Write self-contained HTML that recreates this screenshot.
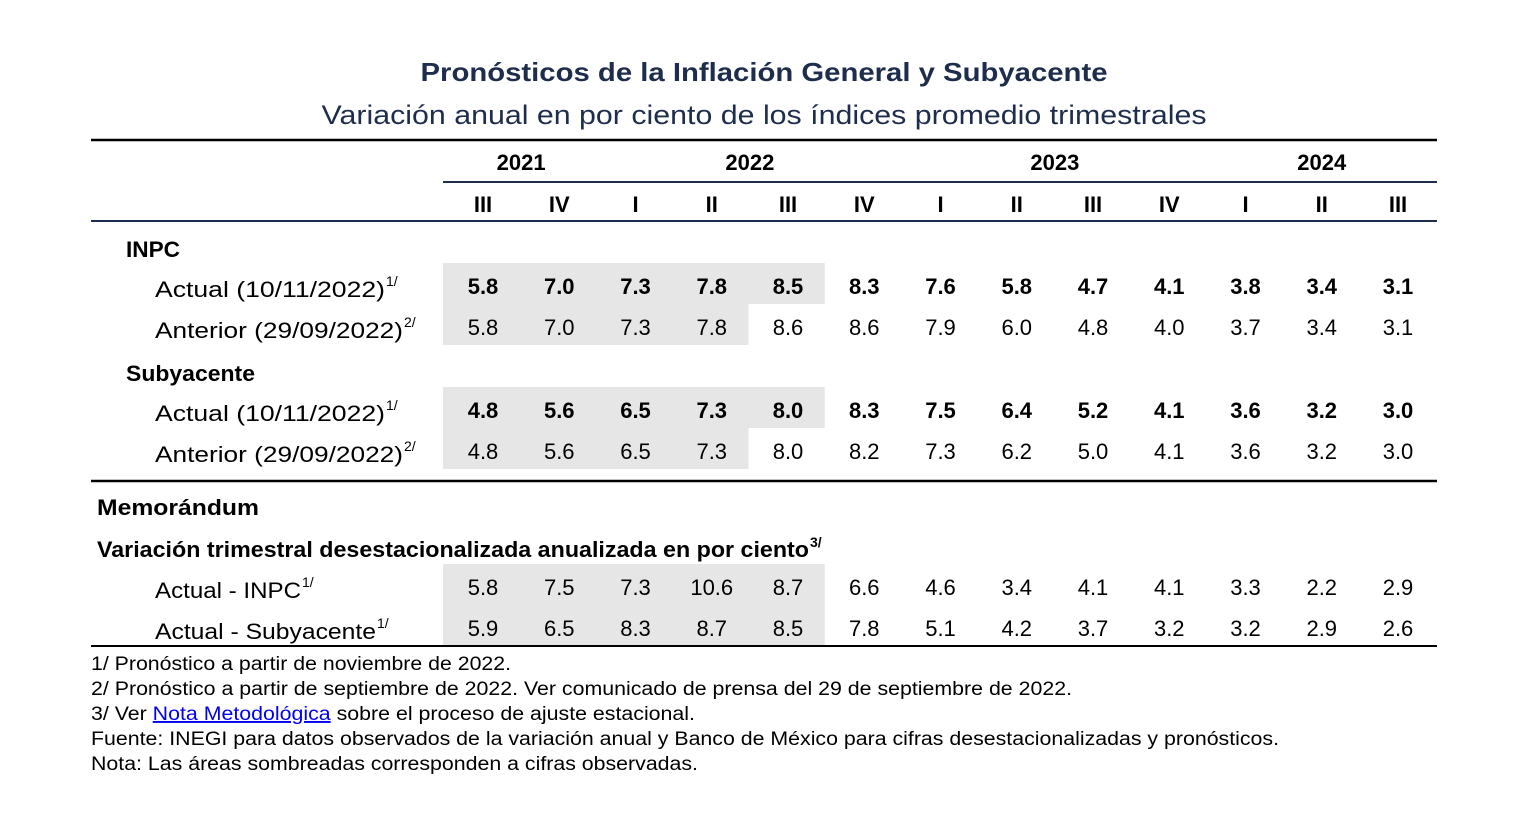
<!DOCTYPE html>
<html><head><meta charset="utf-8"><style>
body{margin:0;background:#fff;width:1520px;height:818px;overflow:hidden}
svg{display:block;font-family:"Liberation Sans",Arial,sans-serif}
</style></head><body>
<svg id="t" width="1520" height="818" viewBox="0 0 1520 818" xmlns="http://www.w3.org/2000/svg">
<text x="764" y="81" text-anchor="middle" font-size="26" font-weight="bold" fill="#1f2d4d" textLength="687" lengthAdjust="spacingAndGlyphs">Pronósticos de la Inflación General y Subyacente</text>
<text x="764" y="124" text-anchor="middle" font-size="27" fill="#1f2d4d" textLength="885" lengthAdjust="spacingAndGlyphs">Variación anual en por ciento de los índices promedio trimestrales</text>
<g id="shade"></g>
<line x1="91" y1="140" x2="1437" y2="140" stroke="#000" stroke-width="2.5"/>
<line x1="443" y1="182" x2="1437" y2="182" stroke="#1f2d4d" stroke-width="2"/>
<line x1="91" y1="221" x2="1437" y2="221" stroke="#1f2d4d" stroke-width="2"/>
<line x1="91" y1="481" x2="1437" y2="481" stroke="#000" stroke-width="2.5"/>
<line x1="91" y1="646" x2="1437" y2="646" stroke="#000" stroke-width="2"/>
<g id="cells" font-size="22"></g>
<g font-size="22" fill="#000">
<text x="126" y="257" font-weight="bold" textLength="54" lengthAdjust="spacingAndGlyphs">INPC</text>
<text x="155" y="297" textLength="230" lengthAdjust="spacingAndGlyphs">Actual (10/11/2022)</text>
<text x="386" y="286" font-size="14">1/</text>
<text x="155" y="338" textLength="248" lengthAdjust="spacingAndGlyphs">Anterior (29/09/2022)</text>
<text x="404" y="327" font-size="14">2/</text>
<text x="126" y="381" font-weight="bold" textLength="129" lengthAdjust="spacingAndGlyphs">Subyacente</text>
<text x="155" y="421" textLength="230" lengthAdjust="spacingAndGlyphs">Actual (10/11/2022)</text>
<text x="386" y="410" font-size="14">1/</text>
<text x="155" y="462" textLength="248" lengthAdjust="spacingAndGlyphs">Anterior (29/09/2022)</text>
<text x="404" y="451" font-size="14">2/</text>
<text x="97" y="515" font-weight="bold" textLength="162" lengthAdjust="spacingAndGlyphs">Memorándum</text>
<text x="97" y="557" font-weight="bold" textLength="712" lengthAdjust="spacingAndGlyphs">Variación trimestral desestacionalizada anualizada en por ciento</text>
<text x="810" y="547" font-size="14" font-weight="bold">3/</text>
<text x="155" y="598" textLength="146" lengthAdjust="spacingAndGlyphs">Actual - INPC</text>
<text x="302" y="587" font-size="14">1/</text>
<text x="155" y="639" textLength="221" lengthAdjust="spacingAndGlyphs">Actual - Subyacente</text>
<text x="377" y="628" font-size="14">1/</text>
</g>
<g font-size="19" fill="#000">
<text x="91" y="670" textLength="420" lengthAdjust="spacingAndGlyphs">1/ Pronóstico a partir de noviembre de 2022.</text>
<text x="91" y="695" textLength="981" lengthAdjust="spacingAndGlyphs">2/ Pronóstico a partir de septiembre de 2022. Ver comunicado de prensa del 29 de septiembre de 2022.</text>
<text x="91" y="720" textLength="604" lengthAdjust="spacingAndGlyphs">3/ Ver <tspan fill="#0000ee" text-decoration="underline">Nota Metodológica</tspan> sobre el proceso de ajuste estacional.</text>
<text x="91" y="745" textLength="1188" lengthAdjust="spacingAndGlyphs">Fuente: INEGI para datos observados de la variación anual y Banco de México para cifras desestacionalizadas y pronósticos.</text>
<text x="91" y="770" textLength="607" lengthAdjust="spacingAndGlyphs">Nota: Las áreas sombreadas corresponden a cifras observadas.</text>
</g>
</svg>
<script>
const quarters=["III","IV","I","II","III","IV","I","II","III","IV","I","II","III"];
const years=["2021","2022","2023","2024"];
const yearSpans=[[0,1],[2,5],[6,9],[10,12]];
const inpcActual=["5.8","7.0","7.3","7.8","8.5","8.3","7.6","5.8","4.7","4.1","3.8","3.4","3.1"];
const inpcAnterior=["5.8","7.0","7.3","7.8","8.6","8.6","7.9","6.0","4.8","4.0","3.7","3.4","3.1"];
const subActual=["4.8","5.6","6.5","7.3","8.0","8.3","7.5","6.4","5.2","4.1","3.6","3.2","3.0"];
const subAnterior=["4.8","5.6","6.5","7.3","8.0","8.2","7.3","6.2","5.0","4.1","3.6","3.2","3.0"];
const memoInpc=["5.8","7.5","7.3","10.6","8.7","6.6","4.6","3.4","4.1","4.1","3.3","2.2","2.9"];
const memoSub=["5.9","6.5","8.3","8.7","8.5","7.8","5.1","4.2","3.7","3.2","3.2","2.9","2.6"];
const observedCounts=[5,4,5,4,5,5];
const NS="http://www.w3.org/2000/svg";
const colX=i=>483+i*76.25;
const cells=document.getElementById('cells'),shade=document.getElementById('shade');
const rows=[
 {d:inpcActual,y:294,top:263,h:41,b:true,n:'inpc-actual'},
 {d:inpcAnterior,y:335,top:304,h:41,b:false,n:'inpc-anterior'},
 {d:subActual,y:418,top:387,h:41,b:true,n:'sub-actual'},
 {d:subAnterior,y:459,top:428,h:41,b:false,n:'sub-anterior'},
 {d:memoInpc,y:595,top:564,h:41,b:false,n:'memo-inpc'},
 {d:memoSub,y:636,top:605,h:40,b:false,n:'memo-sub'}];
rows.forEach((r,ri)=>{
 const rc=document.createElementNS(NS,'rect');
 
 
 rc.setAttribute('x',443);rc.setAttribute('y',r.top);
 rc.setAttribute('width',observedCounts[ri]*76.25+0.5);rc.setAttribute('height',r.h);
 rc.setAttribute('fill','#e6e6e6');shade.appendChild(rc);
 r.d.forEach((v,i)=>{
  const t=document.createElementNS(NS,'text');
  
  
  t.setAttribute('x',colX(i));t.setAttribute('y',r.y);t.setAttribute('text-anchor','middle');
  if(r.b)t.setAttribute('font-weight','bold');
  t.textContent=v;cells.appendChild(t);
 });
});
quarters.forEach((q,i)=>{
 const t=document.createElementNS(NS,'text');
 
 
 t.setAttribute('x',colX(i));t.setAttribute('y',212);t.setAttribute('text-anchor','middle');
 t.setAttribute('font-weight','bold');t.textContent=q;cells.appendChild(t);
});
years.forEach((y,i)=>{
 const t=document.createElementNS(NS,'text');
 
 
 t.setAttribute('x',(colX(yearSpans[i][0])+colX(yearSpans[i][1]))/2);t.setAttribute('y',170);
 t.setAttribute('text-anchor','middle');t.setAttribute('font-weight','bold');
 t.textContent=y;cells.appendChild(t);
});
</script>
</body></html>
